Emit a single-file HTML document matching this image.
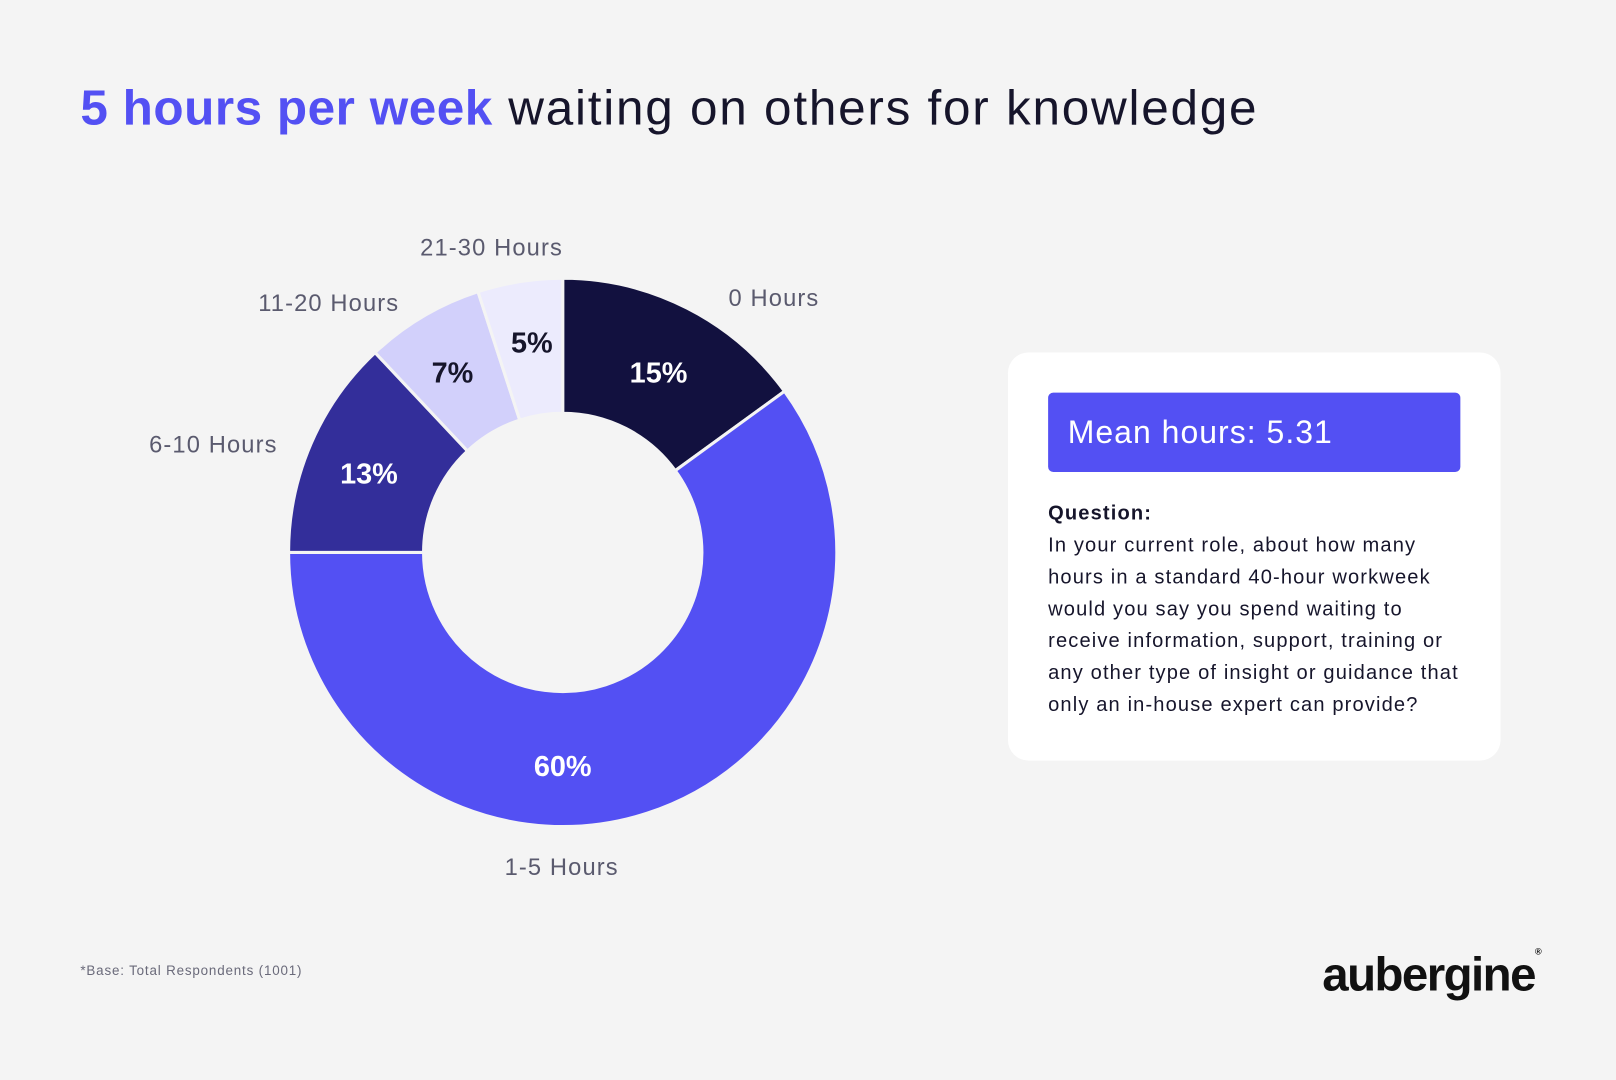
<!DOCTYPE html>
<html><head><meta charset="utf-8">
<style>
html,body{margin:0;padding:0;background:#f4f4f4;}
body{width:1616px;height:1080px;overflow:hidden;font-family:"Liberation Sans",sans-serif;}
#wrap{position:absolute;left:0;top:0;width:1568px;height:1048px;transform:scale(1.0306);transform-origin:0 0;}
.t{position:absolute;white-space:nowrap;}
</style></head><body>
<div id="wrap">
<div class="t" style="left:78px;top:78px;font-size:48px;color:#16152b;letter-spacing:1.7px;"><span style="color:#5350f3;font-weight:bold;letter-spacing:0.5px;">5 hours per week</span> waiting on others for knowledge</div>
<svg id="chart" width="1568" height="1048" style="position:absolute;left:0;top:0;"></svg>
<div style="position:absolute;left:978px;top:342px;width:478px;height:396px;background:#fff;border-radius:20px;"></div>
<div class="t" style="left:1017px;top:381px;width:400px;height:77px;background:#5350f3;border-radius:5px;color:#fff;font-size:31px;letter-spacing:1.0px;line-height:77px;box-sizing:border-box;padding-left:19px;">Mean hours: 5.31</div>
<div class="t" style="left:1017px;top:483px;font-size:19.5px;letter-spacing:1.1px;line-height:31px;color:#16152b;white-space:nowrap;"><b>Question:</b><br>In your current role, about how many<br>hours in a standard 40-hour workweek<br>would you say you spend waiting to<br>receive information, support, training or<br>any other type of insight or guidance that<br>only an in-house expert can provide?</div>
<div class="t" style="left:78px;top:934px;font-size:13px;letter-spacing:0.8px;color:#6a6a7a;">*Base: Total Respondents (1001)</div>
<div class="t" style="left:1283px;top:918px;font-size:46px;font-weight:bold;color:#111;letter-spacing:-1.5px;">aubergine<span style="font-size:9px;vertical-align:top;">®</span></div>
</div>
<script>
const categories=["0 Hours","1-5 Hours","6-10 Hours","11-20 Hours","21-30 Hours"];
const values=[15,60,13,7,5];
const valueLabels=["15%","60%","13%","7%","5%"];
const colors=["#12113f","#5350f3","#332e9a","#d2d0fb","#ecebfd"];
const labelColors=["#fff","#fff","#fff","#16152b","#16152b"];
// layout (not data): label anchor positions matching design
const valuePos=[[639,361],[546,743],[358,459],[439,361],[516,332]];
const catPos=[[751,289],[545,841],[207,431],[319,294],[477,240]];
const cx=546,cy=536,R=266,r=135;
const svg=document.getElementById('chart');
const NS="http://www.w3.org/2000/svg";
const total=values.reduce((a,b)=>a+b,0);
function pt(a,rad){return [cx+rad*Math.sin(a),cy-rad*Math.cos(a)];}
let acc=0;
values.forEach((v,i)=>{
  const a0=acc/total*2*Math.PI,a1=(acc+v)/total*2*Math.PI;acc+=v;
  const large=(a1-a0)>Math.PI?1:0;
  const p0=pt(a0,R),p1=pt(a1,R),q1=pt(a1,r),q0=pt(a0,r);
  const p=document.createElementNS(NS,'path');
  p.setAttribute('d',`M${p0[0]},${p0[1]}A${R},${R} 0 ${large} 1 ${p1[0]},${p1[1]}L${q1[0]},${q1[1]}A${r},${r} 0 ${large} 0 ${q0[0]},${q0[1]}Z`);
  p.setAttribute('fill',colors[i]);p.setAttribute('stroke','#f4f4f4');p.setAttribute('stroke-width','3');
  
  
  svg.appendChild(p);
  const t=document.createElementNS(NS,'text');
  t.setAttribute('x',valuePos[i][0]);t.setAttribute('y',valuePos[i][1]+10);t.setAttribute('text-anchor','middle');
  t.setAttribute('font-size','28');t.setAttribute('font-weight','bold');t.setAttribute('fill',labelColors[i]);
  t.setAttribute('font-family','Liberation Sans, sans-serif');
  t.textContent=valueLabels[i];
  
  
  svg.appendChild(t);
  const c=document.createElementNS(NS,'text');
  c.setAttribute('x',catPos[i][0]);c.setAttribute('y',catPos[i][1]+8);
  c.setAttribute('text-anchor','middle');
  c.setAttribute('font-size','23');c.setAttribute('letter-spacing','1.1');c.setAttribute('fill','#5a5a6e');
  c.setAttribute('font-family','Liberation Sans, sans-serif');
  c.textContent=categories[i];
  
  
  svg.appendChild(c);
});
</script>
</body></html>
